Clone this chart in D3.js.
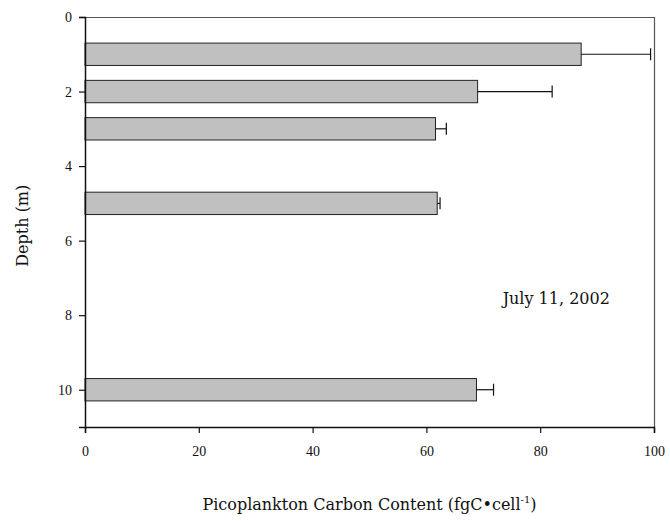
<!DOCTYPE html>
<html>
<head>
<meta charset="utf-8">
<script src="https://cdn.jsdelivr.net/npm/d3@7"></script>
<style>
  body { margin: 0; background: #fff; }
</style>
</head>
<body>
<svg id="chart"></svg>
<script>
// depth of each sample (m), carbon content and its error
const depths = [1, 2, 3, 5, 10];
const carbon = [87.2, 69.0, 61.6, 61.9, 68.8];
const errors = [12.2, 13.1, 1.9, 0.5, 3.0];
const xTicks = [0, 20, 40, 60, 80, 100];
const yTicks = [0, 2, 4, 6, 8, 10];

const tickFont = '"Liberation Serif", "Times New Roman", serif';
const titleFont = '"DejaVu Serif", "Liberation Serif", serif';

const margin = { top: 17, right: 16, bottom: 94, left: 85 };
const width = 670 - margin.left - margin.right;
const height = 521 - margin.top - margin.bottom;

const xScale = d3.scaleLinear().domain([0, 100]).range([0, width]);
const yScale = d3.scaleLinear().domain([0, 11]).range([0, height]);
const barH = yScale(0.6) - yScale(0);

const svg = d3.select('#chart')
    .attr('width', 670)
    .attr('height', 521)
  .append('g')
    .attr('transform', 'translate(' + margin.left + ',' + margin.top + ')');

// frame top and right (gray)
svg.append('path')
  .attr('d', 'M0,0.5H' + (width + 0.5) + 'V' + height)
  .attr('fill', 'none')
  .attr('stroke', '#555')
  .attr('stroke-width', 1.2);

// bars
svg.selectAll('rect.bar')
  .data(depths)
  .enter().append('rect')
    .attr('class', 'bar')
    .attr('x', 0)
    .attr('y', d => yScale(d) - barH / 2)
    .attr('width', (d, i) => xScale(carbon[i]))
    .attr('height', barH)
    .attr('fill', '#c0c0c0')
    .attr('stroke', '#222')
    .attr('stroke-width', 1);

// error bars
const err = svg.selectAll('g.err')
  .data(depths)
  .enter().append('g')
    .attr('class', 'err')
    .attr('stroke', '#111')
    .attr('stroke-width', 1.2);

err.append('line')
  .attr('x1', (d, i) => xScale(carbon[i]))
  .attr('x2', (d, i) => xScale(carbon[i] + errors[i]))
  .attr('y1', d => yScale(d))
  .attr('y2', d => yScale(d));

err.append('line')
  .attr('x1', (d, i) => xScale(carbon[i] + errors[i]))
  .attr('x2', (d, i) => xScale(carbon[i] + errors[i]))
  .attr('y1', d => yScale(d) - 6)
  .attr('y2', d => yScale(d) + 6);

const xAxis = d3.axisBottom(xScale).tickValues(xTicks).tickSize(6).tickPadding(13);
const yAxis = d3.axisLeft(yScale).tickValues(yTicks).tickSize(6).tickPadding(7);

const gx = svg.append('g')
  .attr('transform', 'translate(0,' + height + ')')
  .call(xAxis);
const gy = svg.append('g').call(yAxis);

[gx, gy].forEach(g => {
  g.attr('font-family', tickFont).attr('font-size', 14);
  g.select('.domain').attr('stroke', '#111').attr('stroke-width', 1.5);
  g.selectAll('.tick line').attr('stroke', '#111').attr('stroke-width', 1.2);
  g.selectAll('.tick text').attr('fill', '#111');
});

// axis titles
svg.append('text')
  .attr('transform', 'translate(-57,' + yScale(5.6) + ') rotate(-90)')
  .attr('text-anchor', 'middle')
  .attr('font-family', titleFont)
  .attr('font-size', 16)
  .attr('fill', '#111')
  .text('Depth (m)');

const xt = svg.append('text')
  .attr('x', width / 2)
  .attr('y', height + 83)
  .attr('text-anchor', 'middle')
  .attr('font-family', titleFont)
  .attr('font-size', 16)
  .attr('fill', '#111');
xt.append('tspan').text('Picoplankton Carbon Content (fgC\u2022cell');
xt.append('tspan').attr('font-size', 10).attr('dy', -7).text('-1');
xt.append('tspan').attr('dy', 7).text(')');

// date annotation
svg.append('text')
  .attr('x', xScale(73.4))
  .attr('y', yScale(7.7))
  .attr('font-family', titleFont)
  .attr('font-size', 16)
  .attr('fill', '#111')
  .text('July 11, 2002');
</script>
</body>
</html>
